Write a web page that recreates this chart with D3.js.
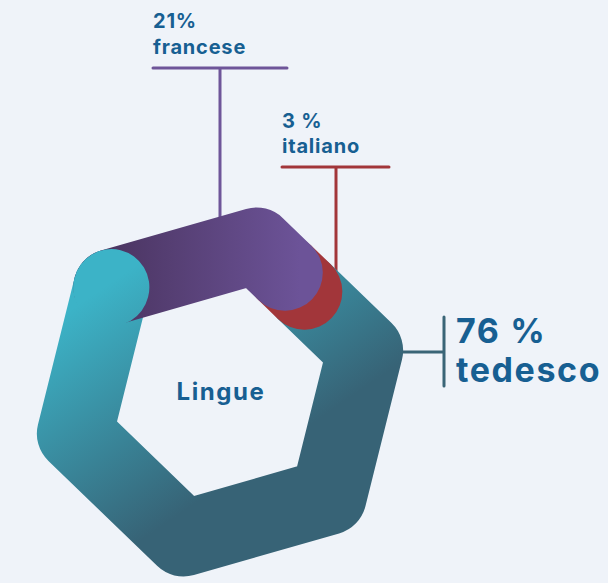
<!DOCTYPE html>
<html>
<head>
<meta charset="utf-8">
<script src="https://cdn.jsdelivr.net/npm/d3@7"></script>
<style>
  html, body { margin: 0; padding: 0; background: #eff3f9; }
  svg { display: block; font-family: "Inter", "Roboto", sans-serif; }
</style>
</head>
<body>
<svg id="chart" width="608" height="583"></svg>
<script>
// data, in drawing order clockwise from the top-left corner
const languages = ["francese", "italiano", "tedesco"];
const shares = [21, 3, 76];
const shareLabels = ["21%", "3 %", "76 %"];

const colors = {
    francese: "url(#grad-purple)",
    italiano: "#a2363a",
    tedesco: "url(#grad-teal)"
};
const lineColors = { francese: "#6e5599", italiano: "#a2363a", tedesco: "#3a6577" };

const svg = d3.select("#chart");
const cx = 220, cy = 392, R = 151, ringWidth = 76;
const startAngle = 224; // degrees, screen coords

// hexagon corners, first one repeated at the end
const corners = d3.range(7).map(i => {
    const a = (startAngle + i * 60) * Math.PI / 180;
    return [cx + R * Math.cos(a), cy + R * Math.sin(a)];
});
const perimeter = 6 * R;
const pos = d3.scaleLinear().domain([0, d3.sum(shares)]).range([0, perimeter]);

function pointAt(s) {
    const k = Math.min(5, Math.floor(s / R));
    const f = (s - k * R) / R;
    const a = corners[k], b = corners[k + 1];
    return [a[0] + (b[0] - a[0]) * f, a[1] + (b[1] - a[1]) * f];
}

function hexPart(s0, s1) {
    const pts = [pointAt(s0)];
    for (let k = 1; k < 6; k++) {
        if (k * R > s0 && k * R < s1) pts.push(corners[k]);
    }
    pts.push(pointAt(s1));
    return pts;
}

const defs = svg.append("defs");
const gt = defs.append("linearGradient").attr("id", "grad-teal")
    .attr("gradientUnits", "userSpaceOnUse")
    .attr("x1", 85).attr("y1", 300).attr("x2", 215).attr("y2", 490);
gt.append("stop").attr("offset", 0).attr("stop-color", "#3cb3c7");
gt.append("stop").attr("offset", 1).attr("stop-color", "#376376");
const gp = defs.append("linearGradient").attr("id", "grad-purple")
    .attr("gradientUnits", "userSpaceOnUse")
    .attr("x1", 105).attr("y1", 0).attr("x2", 300).attr("y2", 0);
gp.append("stop").attr("offset", 0).attr("stop-color", "#4a3460");
gp.append("stop").attr("offset", 1).attr("stop-color", "#6c5398");

const ends = d3.cumsum(shares);
const segs = languages.map((name, i) => ({
    name, value: shares[i], label: shareLabels[i],
    s0: pos(ends[i] - shares[i]), s1: pos(ends[i])
}));

// leader lines (behind the ring)
const leaders = {
    francese: { x: 220, y: 68, x0: 153, x1: 287, down: 230 },
    italiano: { x: 336, y: 167, x0: 282, x1: 389, down: 280 }
};
const lg = svg.append("g");
Object.entries(leaders).forEach(([name, l]) => {
    lg.append("line").attr("x1", l.x0).attr("x2", l.x1).attr("y1", l.y).attr("y2", l.y)
        .attr("stroke", lineColors[name]).attr("stroke-width", 3).attr("stroke-linecap", "round");
    lg.append("line").attr("x1", l.x).attr("x2", l.x).attr("y1", l.y).attr("y2", l.down)
        .attr("stroke", lineColors[name]).attr("stroke-width", 3);
});
lg.append("line").attr("x1", 390).attr("x2", 444).attr("y1", 352).attr("y2", 352)
    .attr("stroke", lineColors.tedesco).attr("stroke-width", 3);
lg.append("line").attr("x1", 444).attr("x2", 444).attr("y1", 317).attr("y2", 386)
    .attr("stroke", lineColors.tedesco).attr("stroke-width", 3).attr("stroke-linecap", "round");

const line = d3.line();
const ring = svg.append("g")
    .attr("fill", "none")
    .attr("stroke-width", ringWidth)
    .attr("stroke-linejoin", "round")
    .attr("stroke-linecap", "round");

const byName = Object.fromEntries(segs.map(d => [d.name, d]));
["tedesco", "italiano", "francese"].forEach(name => {
    const d = byName[name];
    ring.append("path").attr("d", line(hexPart(d.s0, d.s1))).attr("stroke", colors[name]);
});
// the teal end cap sits on top of the purple start
const t = byName.tedesco;
ring.append("path").attr("d", line(hexPart(t.s1 - 1, t.s1))).attr("stroke", colors.tedesco);

// texts
const textColor = "#175f92";
const tg = svg.append("g").attr("fill", textColor).attr("font-weight", 700);
tg.append("text").attr("x", 153).attr("y", 28).attr("font-size", 20).attr("letter-spacing", 0.8).text(byName.francese.label);
tg.append("text").attr("x", 153).attr("y", 54).attr("font-size", 20).attr("letter-spacing", 0.8).text("francese");
tg.append("text").attr("x", 282).attr("y", 128).attr("font-size", 20).attr("letter-spacing", 0.8).text(byName.italiano.label);
tg.append("text").attr("x", 282).attr("y", 153).attr("font-size", 20).attr("letter-spacing", 0.8).text("italiano");
tg.append("text").attr("x", 456).attr("y", 343).attr("font-size", 34).attr("letter-spacing", 1.6).text(byName.tedesco.label);
tg.append("text").attr("x", 456).attr("y", 382).attr("font-size", 34).attr("letter-spacing", 1.6).text("tedesco");
tg.append("text").attr("x", 221).attr("y", 400).attr("font-size", 24).attr("letter-spacing", 1.6)
    .attr("text-anchor", "middle").text("Lingue");
</script>
</body>
</html>
